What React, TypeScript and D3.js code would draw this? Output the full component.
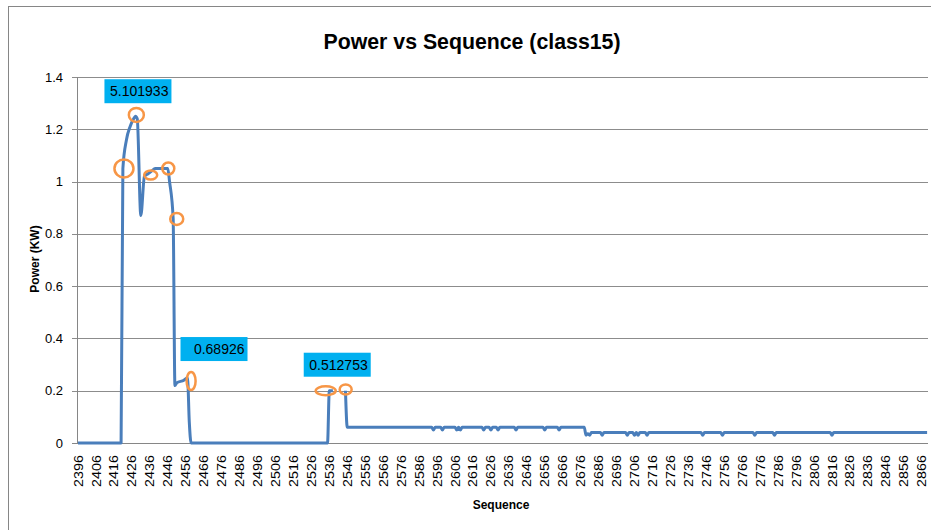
import React from 'react'
import * as d3 from 'd3'

// sequence / power readings (breakpoints of the trace; null = gap in the data)
const sequence = [
  2396, 2420, 2421, 2423, 2425, 2427, 2428, 2429, 2431, 2433, 2435, 2437, 2439, 2446, 2447, 2449,
  2450, 2451, 2455, 2457, 2458, 2459, 2535, 2536, 2538, 2541, 2545, 2546,
  2593, 2594, 2595, 2598, 2599, 2600, 2606, 2607, 2608, 2609, 2610, 2621, 2622, 2623,
  2625, 2626, 2627, 2629, 2630, 2631, 2639, 2640, 2641, 2655, 2656, 2657, 2663, 2664, 2665,
  2678, 2679, 2680, 2681, 2682, 2687, 2688, 2689, 2701, 2702, 2703, 2705, 2706, 2707, 2708, 2709,
  2712, 2713, 2714, 2743, 2744, 2745, 2754, 2755, 2756, 2772, 2773, 2774, 2783, 2784, 2785,
  2815, 2816, 2817, 2869
]
const power = [
  0, 0, 1.05, 1.16, 1.21, 1.24, 1.25, 1.24, 0.87, 1.02, 1.03, 1.04, 1.05, 1.05, 1.0, 0.86,
  0.22, 0.23, 0.24, 0.25, 0.08, 0, 0, 0.2, 0.2, null, 0.2, 0.06,
  0.06, 0.05, 0.06, 0.06, 0.05, 0.06, 0.06, 0.05, 0.06, 0.05, 0.06, 0.06, 0.05, 0.06,
  0.06, 0.05, 0.06, 0.06, 0.05, 0.06, 0.06, 0.05, 0.06, 0.06, 0.05, 0.06, 0.06, 0.05, 0.06,
  0.06, 0.03, 0.035, 0.03, 0.04, 0.04, 0.03, 0.04, 0.04, 0.03, 0.04, 0.04, 0.03, 0.04, 0.03, 0.04,
  0.04, 0.03, 0.04, 0.04, 0.03, 0.04, 0.04, 0.03, 0.04, 0.04, 0.03, 0.04, 0.04, 0.03, 0.04,
  0.04, 0.03, 0.04, 0.04
]

const seqTicks = [
  2396, 2406, 2416, 2426, 2436, 2446, 2456, 2466, 2476, 2486, 2496, 2506, 2516, 2526, 2536, 2546,
  2556, 2566, 2576, 2586, 2596, 2606, 2616, 2626, 2636, 2646, 2656, 2666, 2676, 2686, 2696, 2706,
  2716, 2726, 2736, 2746, 2756, 2766, 2776, 2786, 2796, 2806, 2816, 2826, 2836, 2846, 2856, 2866
]
const powerTicks = [0, 0.2, 0.4, 0.6, 0.8, 1, 1.2, 1.4]

// hand drawn callouts
const calloutSeq = [2428, 2457, 2534]
const calloutPower = [1.25, 0.237, 0.2]
const calloutText = ['5.101933', '0.68926', '0.512753']

// orange rings
const ringSeq = [2421.6, 2428.5, 2436.5, 2446.3, 2451, 2459, 2534, 2545.1]
const ringPower = [1.05, 1.255, 1.025, 1.05, 0.857, 0.237, 0.2, 0.205]

const W = 931, H = 530
const font = "'Liberation Sans', Arial, sans-serif"
const narrow = "'Liberation Sans Narrow', 'Liberation Sans', Arial, sans-serif"

export default function App() {
  const x = d3.scaleLinear().domain([2396, 2869.5]).range([78, 928])
  const y = d3.scaleLinear().domain([0, 1.4]).range([443, 77])

  const pts = sequence.map((s, i) => ({ s, v: power[i] }))
  const line = d3.line<{ s: number; v: number | null }>()
    .defined(d => d.v != null)
    .x(d => x(d.s))
    .y(d => y(d.v as number))
    .curve(d3.curveMonotoneX)

  const calloutOffset = [[-31, -37], [-7, -44], [-22, -38]]
  const ringR = [[9.5, 9], [7.5, 7], [6.5, 4.5], [6, 6], [6.5, 6], [4.5, 9], [10, 4.5], [6, 5]]

  return (
    <svg width={W} height={H} style={{ position: 'absolute', left: 0, top: 0, background: '#fff' }}>
      <rect x={8.5} y={6.5} width={W + 20} height={H + 20} fill="#fff" stroke="#868686" />

      <text x={472} y={49} textAnchor="middle" fontFamily={narrow} fontWeight="bold" fontSize={22}
        textLength={297} lengthAdjust="spacingAndGlyphs">Power vs Sequence (class15)</text>

      {/* gridlines */}
      {powerTicks.map(t => (
        <g key={t}>
          <line x1={72} x2={928} y1={Math.round(y(t)) + 0.5} y2={Math.round(y(t)) + 0.5}
            stroke={t === 0 ? '#868686' : '#8c8c8c'} strokeWidth={1} />
          <text x={63} y={y(t)} dy="0.35em" textAnchor="end" fontFamily={font} fontSize={13}
            fill="#000">{t}</text>
        </g>
      ))}
      <line x1={77.5} x2={77.5} y1={y(1.4)} y2={y(0)} stroke="#868686" />

      {/* x labels */}
      {seqTicks.map(t => (
        <text key={t} transform={`translate(${x(t)},455) rotate(-90)`} dy="0.35em" textAnchor="end"
          fontFamily={font} fontSize={13} textLength={32} lengthAdjust="spacingAndGlyphs">{t}</text>
      ))}

      <text x={501} y={509} textAnchor="middle" fontFamily={font} fontWeight="bold" fontSize={12}>Sequence</text>
      <text transform="translate(39,259) rotate(-90)" textAnchor="middle" fontFamily={font}
        fontWeight="bold" fontSize={12}>Power (KW)</text>

      <path d={line(pts) || ''} fill="none" stroke="#4A7EBB" strokeWidth={3} strokeLinejoin="round" />

      {ringSeq.map((s, i) => (
        <ellipse key={i} cx={x(s)} cy={y(ringPower[i])} rx={ringR[i][0]} ry={ringR[i][1]}
          fill="none" stroke="#F79646" strokeWidth={2.5} />
      ))}

      {calloutSeq.map((s, i) => {
        const bx = x(s) + calloutOffset[i][0]
        const by = y(calloutPower[i]) + calloutOffset[i][1]
        return (
          <g key={i}>
            <rect x={bx} y={by} width={67} height={24} fill="#00B0F0" />
            <text x={bx + 64} y={by + 17} textAnchor="end" fontFamily={font} fontSize={14}
              fill="#000">{calloutText[i]}</text>
          </g>
        )
      })}
    </svg>
  )
}
